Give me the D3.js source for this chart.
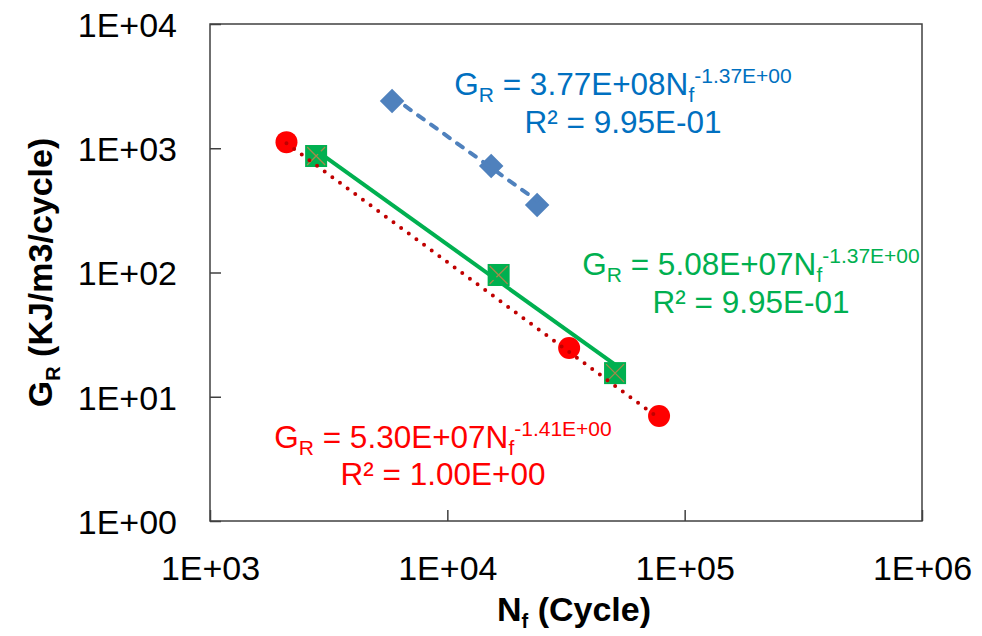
<!DOCTYPE html>
<html>
<head>
<meta charset="utf-8">
<script src="https://cdn.jsdelivr.net/npm/d3@7"></script>
<style>
    body { margin: 0; background: #fff; }
    svg text { font-family: "Liberation Sans", Arial, sans-serif; }
</style>
</head>
<body>
<div class="viz"></div>
<script>
var margin = { top: 24, right: 60, bottom: 115, left: 210 },
    W = 982,
    H = 636,
    width = W - margin.left - margin.right,
    height = H - margin.top - margin.bottom;

// tick labels
const xTicks = [1e3, 1e4, 1e5, 1e6];
const yTicks = [1e0, 1e1, 1e2, 1e3, 1e4];
const tickFmt = (d) => "1E+0" + Math.round(Math.log10(d));

// series 1 (blue diamonds)
const blueN = [5850, 15300, 23900];
const blueG = [2400, 720, 349];
// series 2 (green squares)
const greenN = [2800, 16450, 50900];
const greenG = [866, 95.5, 15.5];
// series 3 (red circles)
const redN = [2100, 32600, 78000];
const redG = [1120, 24.7, 7.0];

// power trendline coefficients G = a * N^b
const blueFit = { a: 3.77e8, b: -1.37, coef: "3.77E+08", exp: "-1.37E+00", r2: "9.95E-01" };
const greenFit = { a: 5.08e7, b: -1.37, coef: "5.08E+07", exp: "-1.37E+00", r2: "9.95E-01" };
const redFit = { a: 5.30e7, b: -1.41, coef: "5.30E+07", exp: "-1.41E+00", r2: "1.00E+00" };

var x = d3.scaleLog().domain([1e3, 1e6]).range([0, width]);
var y = d3.scaleLog().domain([1e0, 1e4]).range([height, 0]);

var svg = d3
    .select(".viz")
    .append("svg")
    .attr("width", W)
    .attr("height", H);

var g = svg
    .append("g")
    .attr("transform", `translate(${margin.left},${margin.top})`);

// frame
g.append("rect")
    .attr("width", width)
    .attr("height", height)
    .attr("fill", "none")
    .attr("stroke", "#404040")
    .attr("stroke-width", 1.5);

// axes with inward ticks
var xAxis = g
    .append("g")
    .attr("transform", `translate(0,${height})`)
    .call(d3.axisBottom(x).tickValues(xTicks).tickFormat(tickFmt).tickSizeInner(-11).tickSizeOuter(0).tickPadding(35));
var yAxis = g
    .append("g")
    .call(d3.axisLeft(y).tickValues(yTicks).tickFormat(tickFmt).tickSizeInner(-11).tickSizeOuter(0).tickPadding(33));

[xAxis, yAxis].forEach((a) => {
    a.select(".domain").remove();
    a.selectAll(".tick line").attr("stroke", "#404040").attr("stroke-width", 1.5);
    a.selectAll(".tick text")
        .attr("fill", "#000")
        .style("font-size", "34px")
        .style("font-family", '"Liberation Sans", Arial, sans-serif');
});
yAxis.selectAll(".tick text").attr("dy", "0.36em");
xAxis.selectAll(".tick text").attr("dy", "0.71em");

// axis titles
var xTitle = svg
    .append("text")
    .attr("x", margin.left + width / 2 + 8)
    .attr("y", 621)
    .attr("text-anchor", "middle")
    .style("font-size", "34px")
    .style("font-weight", "bold");
xTitle.append("tspan").text("N");
xTitle.append("tspan").attr("dy", 7).style("font-size", "20px").text("f");
xTitle.append("tspan").attr("dy", -7).text(" (Cycle)");

var yTitle = svg
    .append("text")
    .attr("transform", `translate(52,${margin.top + height / 2}) rotate(-90)`)
    .attr("text-anchor", "middle")
    .style("font-size", "34px")
    .style("font-weight", "bold");
yTitle.append("tspan").text("G");
yTitle.append("tspan").attr("dy", 8).style("font-size", "20px").text("R");
yTitle.append("tspan").attr("dy", -8).text(" (KJ/m3/cycle)");

// markers
var marks = g.append("g");

marks.selectAll("path.diamond")
    .data(d3.zip(blueN, blueG))
    .enter()
    .append("path")
    .attr("class", "diamond")
    .attr("d", d3.symbol().type(d3.symbolSquare).size(300))
    .attr("transform", (d) => `translate(${x(d[0])},${y(d[1])}) rotate(45)`)
    .attr("fill", "#4f81bd");

var sq = marks.selectAll("g.square")
    .data(d3.zip(greenN, greenG))
    .enter()
    .append("g")
    .attr("class", "square")
    .attr("transform", (d) => `translate(${x(d[0])},${y(d[1])})`);
sq.append("rect")
    .attr("x", -11).attr("y", -11)
    .attr("width", 22).attr("height", 22)
    .attr("fill", "#00b050");
sq.append("path")
    .attr("d", "M-9,-9L9,9M-9,9L9,-9")
    .attr("stroke", "#a3894a")
    .attr("stroke-width", 1.3);

marks.selectAll("circle")
    .data(d3.zip(redN, redG))
    .enter()
    .append("circle")
    .attr("cx", (d) => x(d[0]))
    .attr("cy", (d) => y(d[1]))
    .attr("r", 11)
    .attr("fill", "#ff0000");

// trendlines drawn from the fitted power law across each series' range
function trend(N, fit) {
    var n = d3.extent(N);
    return n.map((v) => [v, fit.a * Math.pow(v, fit.b)]);
}
var line = d3.line().x((d) => x(d[0])).y((d) => y(d[1]));

g.append("path")
    .attr("d", line(trend(blueN, blueFit)))
    .attr("fill", "none")
    .attr("stroke", "#4f81bd")
    .attr("stroke-width", 4)
    .attr("stroke-linecap", "round")
    .attr("stroke-dasharray", "7,9");

g.append("path")
    .attr("d", line(trend(greenN, greenFit)))
    .attr("fill", "none")
    .attr("stroke", "#00b050")
    .attr("stroke-width", 4);

g.append("path")
    .attr("d", line(trend(redN, redFit)))
    .attr("fill", "none")
    .attr("stroke", "#c00000")
    .attr("stroke-width", 4)
    .attr("stroke-linecap", "round")
    .attr("stroke-dasharray", "0,9.5");

// equation labels, both lines in one text element
function eqLabel(fit, color, cx, y1, y2) {
    var t = svg.append("text")
        .attr("text-anchor", "middle")
        .attr("fill", color)
        .style("font-size", "31.5px");
    var l1 = t.append("tspan").attr("x", cx).attr("y", y1);
    l1.append("tspan").text("G");
    l1.append("tspan").attr("dy", 7).style("font-size", "21px").text("R");
    l1.append("tspan").attr("dy", -7).text(" = " + fit.coef + "N");
    l1.append("tspan").attr("dy", 7).style("font-size", "21px").text("f");
    l1.append("tspan").attr("dy", -19).style("font-size", "21px").text(fit.exp);
    t.append("tspan")
        .attr("x", cx)
        .attr("y", y2)
        .text("R² = " + fit.r2);
}
eqLabel(blueFit, "#0070c0", 623, 95, 133);
eqLabel(greenFit, "#00b050", 751, 275, 313);
eqLabel(redFit, "#ff0000", 443, 448, 485);
</script>
</body>
</html>
